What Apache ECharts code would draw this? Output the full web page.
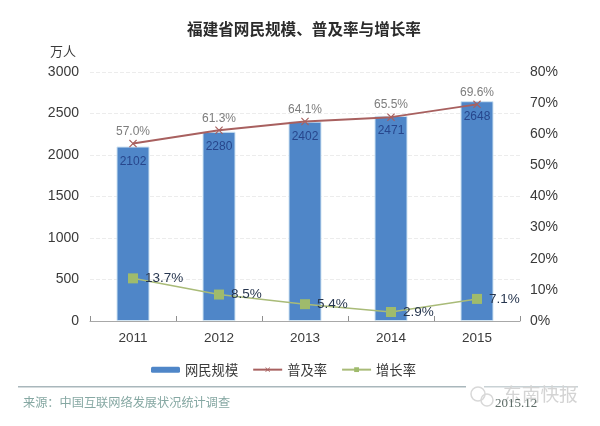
<!DOCTYPE html>
<html>
<head>
<meta charset="utf-8">
<title>福建省网民规模、普及率与增长率</title>
<script src="https://cdn.jsdelivr.net/npm/echarts@6/dist/echarts.min.js"></script>
<style>
	html, body { margin: 0; padding: 0; background: #fff; }
	#main { width: 600px; height: 426px; }
</style>
</head>
<body>
<div id="main"></div>
<script>
	var years = ['2011', '2012', '2013', '2014', '2015'];
	var netizens = [2102, 2280, 2402, 2471, 2648];
	var penetration = [57.0, 61.3, 64.1, 65.5, 69.6];
	var growth = [13.7, 8.5, 5.4, 2.9, 7.1];

	var latin = '"Liberation Sans", "Noto Sans CJK SC", sans-serif';
	var cjk = '"Noto Sans CJK SC", sans-serif';
	// echarts has no cross symbol, so draw one as a filled path
	var cross = 'path://M1 0L5 4L9 0L10 1L6 5L10 9L9 10L5 6L1 10L0 9L4 5L0 1Z';

	var chart = echarts.init(document.getElementById('main'));
	chart.setOption({
		backgroundColor: '#ffffff',
		animation: false,
		title: {
			text: '福建省网民规模、普及率与增长率',
			left: 299,
			top: 16,
			textAlign: 'center',
			textStyle: { fontFamily: cjk, fontSize: 15.6, fontWeight: 'bold', color: '#2b2b2b' }
		},
		legend: {
			left: 146,
			top: 358,
			itemWidth: 29,
			itemHeight: 6,
			itemGap: 14,
			itemStyle: { borderWidth: 0 },
			textStyle: { fontFamily: cjk, fontSize: 13.3, color: '#3a3a3a' },
			data: ['网民规模', '普及率', '增长率']
		},
		grid: { left: 90, right: 80, top: 72, bottom: 105 },
		xAxis: [{
			type: 'category',
			data: years,
			boundaryGap: true,
			axisLine: { lineStyle: { color: '#a8a8a8' } },
			axisTick: { show: true, alignWithLabel: false, inside: true, length: 5, lineStyle: { color: '#8f8f8f' } },
			axisLabel: { fontFamily: latin, fontSize: 13.5, color: '#3a3a3a', margin: 11 }
		}],
		yAxis: [{
			type: 'value',
			min: 0,
			max: 3000,
			interval: 500,
			name: '万人',
			nameLocation: 'end',
			nameGap: 14,
			nameTextStyle: { fontFamily: cjk, fontSize: 13, color: '#3a3a3a', align: 'right', padding: [0, 14, 0, 0] },
			axisLine: { show: false },
			axisTick: { show: false },
			axisLabel: {
				fontFamily: latin,
				fontSize: 14,
				color: '#3a3a3a',
				margin: 11,
				formatter: function(v) { return String(v); }
			},
			splitLine: { lineStyle: { color: '#ececec', type: 'dashed' } }
		}, {
			type: 'value',
			min: 0,
			max: 80,
			interval: 10,
			axisLine: { show: false },
			axisTick: { show: false },
			axisLabel: { fontFamily: latin, fontSize: 14, color: '#3a3a3a', margin: 10, formatter: '{value}%' },
			splitLine: { show: false }
		}],
		series: [{
			name: '网民规模',
			type: 'bar',
			barWidth: 33,
			data: netizens,
			itemStyle: { color: '#4f86c8', borderColor: '#cfe3f2', borderWidth: 1 },
			label: {
				show: true,
				position: 'insideTop',
				distance: 9,
				fontFamily: latin,
				fontSize: 12,
				color: '#27468c',
				formatter: function(p) { return String(p.value); }
			}
		}, {
			name: '普及率',
			type: 'line',
			yAxisIndex: 1,
			data: penetration,
			symbol: cross,
			symbolSize: 8,
			lineStyle: { color: '#a8605f', width: 2 },
			itemStyle: { color: '#a8605f' },
			label: {
				show: true,
				position: 'top',
				distance: 2,
				fontFamily: latin,
				fontSize: 12,
				color: '#7d7d7d',
				formatter: function(p) { return p.value.toFixed(1) + '%'; }
			}
		}, {
			name: '增长率',
			type: 'line',
			yAxisIndex: 1,
			data: growth,
			symbol: 'rect',
			symbolSize: 10,
			lineStyle: { color: '#a9bb78', width: 1.5 },
			itemStyle: { color: '#9fbb6c' },
			label: {
				show: true,
				position: 'right',
				distance: 7,
				fontFamily: latin,
				fontSize: 13.5,
				color: '#27364f',
				formatter: function(p) { return p.value.toFixed(1) + '%'; }
			}
		}],
		graphic: [
			{ type: 'rect', shape: { x: 18, y: 386, width: 448, height: 1.5 }, style: { fill: '#a9b7bc' } },
			{ type: 'rect', shape: { x: 484, y: 386, width: 94, height: 1.5 }, style: { fill: '#c9d2d5' } },
			{ type: 'text', x: 23, y: 396, style: { text: '来源：中国互联网络发展状况统计调查', fontFamily: cjk, fontSize: 12.2, fill: '#86a8a3' } },
			// wechat-style watermark
			{ type: 'circle', shape: { cx: 478, cy: 394, r: 7 }, style: { fill: 'none', stroke: '#d8d8d8', lineWidth: 1.5 } },
			{ type: 'circle', shape: { cx: 487, cy: 400, r: 6 }, style: { fill: 'none', stroke: '#d8d8d8', lineWidth: 1.5 } },
			{ type: 'text', x: 503, y: 385, style: { text: '东南快报', fontFamily: cjk, fontSize: 18.7, fill: '#d4d4d4' } },
			{ type: 'text', x: 495, y: 397, style: { text: '2015.12', fontFamily: '"Liberation Serif", serif', fontSize: 13, fill: '#5c6b66' } }
		]
	});
</script>
</body>
</html>
